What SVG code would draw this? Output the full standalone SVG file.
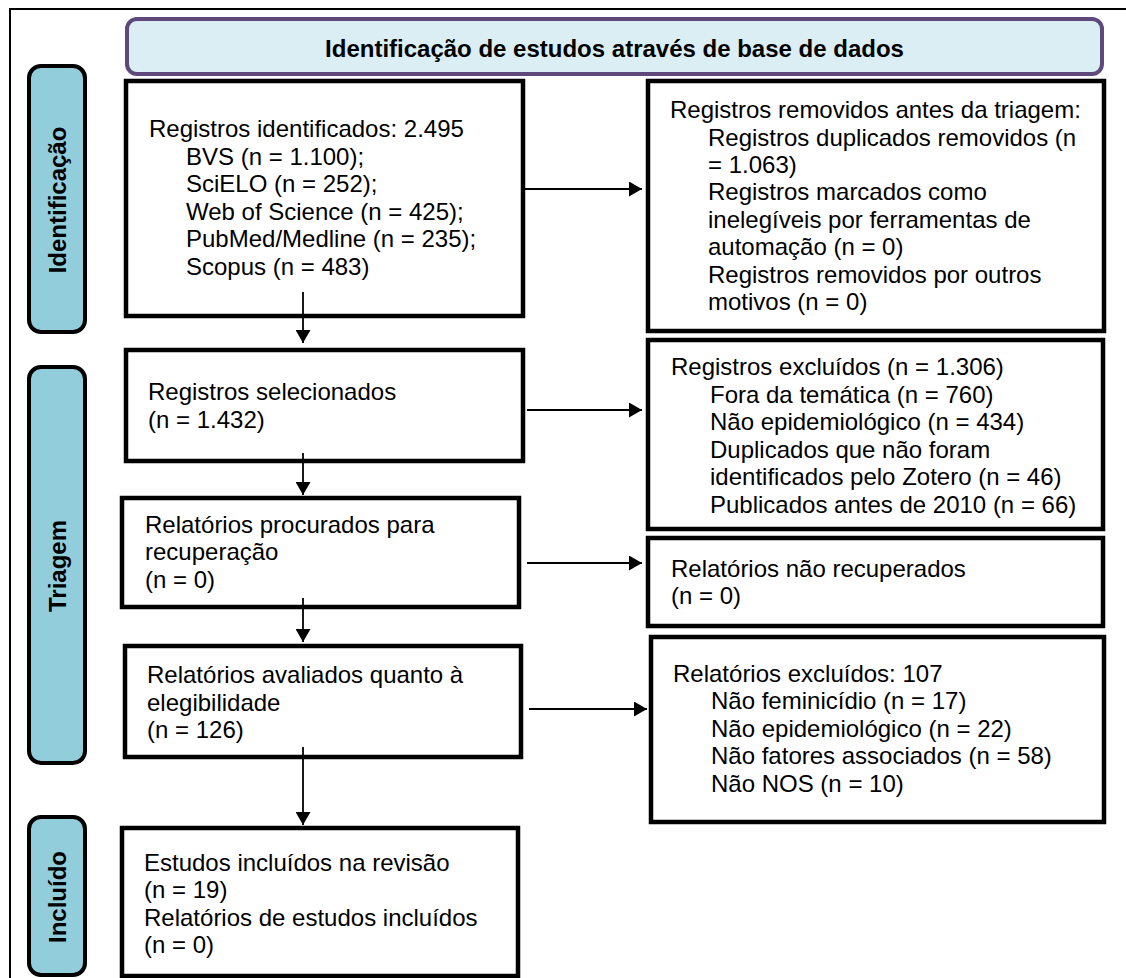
<svg xmlns="http://www.w3.org/2000/svg" width="1126" height="978" viewBox="0 0 1126 978">
<defs>
<style>
.t{font-family:"Liberation Sans",Arial,sans-serif;font-size:24px;fill:#000}
.b{font-weight:bold}
.box{fill:#fff;stroke:#000;stroke-width:4.5}
.side{fill:#92CDDC;stroke:#000;stroke-width:4}
.conn{stroke:#000;stroke-width:1.8;fill:none}
</style>
<marker id="ah" viewBox="0 0 13 15" refX="13" refY="7.5" markerWidth="13" markerHeight="15" markerUnits="userSpaceOnUse" orient="auto">
<path d="M0,0 L13,7.5 L0,15 z" fill="#000"/>
</marker>
</defs>
<rect x="0" y="0" width="1126" height="978" fill="#fff"/>
<rect x="10" y="9" width="1140" height="1000" fill="none" stroke="#000" stroke-width="2"/>

<g id="header">
<rect x="127" y="19" width="975" height="55" rx="10" fill="#DAEEF3" stroke="#5F497A" stroke-width="4"/>
<text class="t b" x="614.5" y="57" text-anchor="middle">Identificação de estudos através de base de dados</text>
</g>

<g id="side-identificacao">
<rect class="side" x="29" y="66" width="56" height="266" rx="12"/>
<text class="t b" transform="translate(66,200) rotate(-90)" text-anchor="middle">Identificação</text>
</g>
<g id="side-triagem">
<rect class="side" x="29" y="367" width="56" height="396" rx="12"/>
<text class="t b" transform="translate(66,566) rotate(-90)" text-anchor="middle">Triagem</text>
</g>
<g id="side-incluido">
<rect class="side" x="29" y="817" width="56" height="158" rx="12"/>
<text class="t b" transform="translate(66,897) rotate(-90)" text-anchor="middle">Incluído</text>
</g>

<g id="box-identificados">
<rect class="box" x="126" y="81" width="397" height="235"/>
<text class="t" x="149" y="137">Registros identificados: 2.495</text>
<text class="t" x="186" y="165">BVS (n = 1.100);</text>
<text class="t" x="186" y="192">SciELO (n = 252);</text>
<text class="t" x="186" y="220">Web of Science (n = 425);</text>
<text class="t" x="186" y="247">PubMed/Medline (n = 235);</text>
<text class="t" x="186" y="275">Scopus (n = 483)</text>
</g>

<g id="box-removidos">
<rect class="box" x="648" y="81" width="456" height="250"/>
<text class="t" x="670" y="118">Registros removidos antes da triagem:</text>
<text class="t" x="708" y="146">Registros duplicados removidos (n</text>
<text class="t" x="708" y="173">= 1.063)</text>
<text class="t" x="708" y="200">Registros marcados como</text>
<text class="t" x="708" y="228">inelegíveis por ferramentas de</text>
<text class="t" x="708" y="255">automação (n = 0)</text>
<text class="t" x="708" y="283">Registros removidos por outros</text>
<text class="t" x="708" y="310">motivos (n = 0)</text>
</g>

<g id="box-selecionados">
<rect class="box" x="126" y="350" width="397" height="111"/>
<text class="t" x="148" y="400">Registros selecionados</text>
<text class="t" x="148" y="428">(n = 1.432)</text>
</g>

<g id="box-excluidos">
<rect class="box" x="648" y="340" width="455" height="189"/>
<text class="t" x="671" y="375">Registros excluídos (n = 1.306)</text>
<text class="t" x="710" y="403">Fora da temática (n = 760)</text>
<text class="t" x="710" y="430">Não epidemiológico (n = 434)</text>
<text class="t" x="710" y="458">Duplicados que não foram</text>
<text class="t" x="710" y="485">identificados pelo Zotero (n = 46)</text>
<text class="t" x="710" y="513">Publicados antes de 2010 (n = 66)</text>
</g>

<g id="box-procurados">
<rect class="box" x="122" y="498" width="397" height="109"/>
<text class="t" x="145" y="533">Relatórios procurados para</text>
<text class="t" x="145" y="560">recuperação</text>
<text class="t" x="145" y="588">(n = 0)</text>
</g>

<g id="box-nao-recuperados">
<rect class="box" x="648" y="538" width="455" height="88"/>
<text class="t" x="671" y="577">Relatórios não recuperados</text>
<text class="t" x="671" y="604">(n = 0)</text>
</g>

<g id="box-avaliados">
<rect class="box" x="125" y="646" width="396" height="111"/>
<text class="t" x="147" y="683">Relatórios avaliados quanto à</text>
<text class="t" x="147" y="711">elegibilidade</text>
<text class="t" x="147" y="738">(n = 126)</text>
</g>

<g id="box-relatorios-excluidos">
<rect class="box" x="651" y="637" width="453" height="185"/>
<text class="t" x="673" y="682">Relatórios excluídos: 107</text>
<text class="t" x="711" y="709">Não feminicídio (n = 17)</text>
<text class="t" x="711" y="737">Não epidemiológico (n = 22)</text>
<text class="t" x="711" y="764">Não fatores associados (n = 58)</text>
<text class="t" x="711" y="792">Não NOS (n = 10)</text>
</g>

<g id="box-incluidos">
<rect class="box" x="122" y="828" width="396" height="148"/>
<text class="t" x="144" y="871">Estudos incluídos na revisão</text>
<text class="t" x="144" y="898">(n = 19)</text>
<text class="t" x="144" y="926">Relatórios de estudos incluídos</text>
<text class="t" x="144" y="953">(n = 0)</text>
</g>

<g id="connectors">
<line class="conn" x1="303" y1="292" x2="303" y2="343" marker-end="url(#ah)"/>
<line class="conn" x1="303" y1="453" x2="303" y2="495" marker-end="url(#ah)"/>
<line class="conn" x1="303" y1="598" x2="303" y2="642" marker-end="url(#ah)"/>
<line class="conn" x1="303" y1="747" x2="303" y2="825" marker-end="url(#ah)"/>
<line class="conn" x1="523" y1="189" x2="642" y2="189" marker-end="url(#ah)"/>
<line class="conn" x1="527" y1="410" x2="642" y2="410" marker-end="url(#ah)"/>
<line class="conn" x1="527" y1="563" x2="642" y2="563" marker-end="url(#ah)"/>
<line class="conn" x1="529" y1="709" x2="647" y2="709" marker-end="url(#ah)"/>
</g>
</svg>
